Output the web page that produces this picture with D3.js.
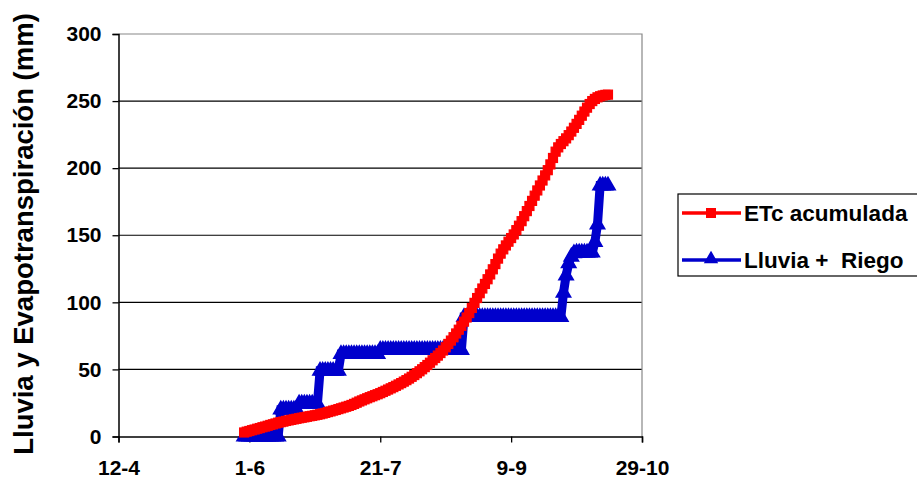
<!DOCTYPE html>
<html>
<head>
<meta charset="utf-8">
<script src="https://cdn.jsdelivr.net/npm/d3@7"></script>
<style>
  html, body { margin: 0; padding: 0; background: #fff; }
  svg { display: block; }
  text { font-family: "Liberation Sans", Arial, sans-serif; font-weight: bold; fill: #000; }
</style>
</head>
<body>
<svg id="chart" width="917" height="478"></svg>
<script>
// Daily series, one value per day starting on 30 May
const firstDay = "2005-05-30";

// Accumulated crop evapotranspiration (mm)
const etcAcumulada = [
  3.0, 3.6, 4.1, 4.7, 5.2, 5.8, 6.3, 6.9, 7.4, 8.0, 8.6, 9.1, 9.7,
  10.3, 10.7, 11.1, 11.6, 12.0, 12.4, 12.8, 13.2, 13.6, 14.0, 14.3, 14.7, 15.1, 15.4, 15.8, 16.2, 16.6,
  17.1, 17.6, 18.2, 18.7, 19.3, 19.8, 20.4, 21.0, 21.6, 22.2, 22.8, 23.5, 24.3, 25.2, 26.1, 26.9, 27.7, 28.5, 29.3, 30.0, 30.8, 31.5, 32.3,
  33.2, 34.1, 35.0, 35.9, 36.8, 37.8, 38.8, 39.8, 40.9, 42.0, 43.2, 44.5, 45.8, 47.2, 48.6, 50.1, 51.7, 53.3, 55.0, 56.8,
  58.5, 60.3, 62.2, 64.1, 66.5, 69.0, 71.5, 74.0, 76.8, 79.6, 82.5, 85.6, 88.7, 92.0, 95.8, 99.6,
  103.2, 106.8, 110.3, 113.7, 117.2, 120.8, 124.6, 128.5, 132.6, 136.3, 139.5, 142.4, 145.2, 147.9, 150.6,
  153.8, 157.1, 160.5, 164.2, 168.0, 171.8, 175.6, 179.5, 183.4, 187.1, 190.8, 194.6, 198.5, 202.8, 207.6, 212.3,
  215.5, 218.0, 220.1, 222.2, 224.6, 227.3, 230.1, 233.0, 236.0, 239.1, 242.2, 245.1, 247.8, 250.0,
  251.6, 252.8, 253.6, 254.2, 254.6, 254.8
];

// Accumulated rainfall + irrigation (mm)
const lluviaRiego = [
  0, 0, 0, 0, 0, 0, 0, 0, 0, 0, 0, 0, 0, 0,
  20, 20, 20, 20, 20, 20, 20,
  24.5, 24.5, 24.5, 24.5, 24.5, 24.5, 24.5, 24.5,
  49, 49, 49, 49, 49, 49, 49, 49,
  61.5, 61.5, 61.5, 61.5, 61.5, 61.5, 61.5, 61.5, 61.5, 61.5, 61.5, 61.5, 61.5, 61.5, 61.5,
  64.5, 64.5, 64.5, 64.5, 64.5, 64.5, 64.5, 64.5, 64.5, 64.5, 64.5, 64.5, 64.5, 64.5, 64.5, 64.5,
  64.5, 64.5, 64.5, 64.5, 64.5, 64.5, 64.5, 64.5, 64.5, 64.5, 64.5, 64.5, 64.5, 64.5, 64.5, 64.5,
  89, 89, 89, 89, 89, 89, 89, 89, 89, 89, 89, 89, 89, 89, 89, 89, 89, 89, 89,
  89, 89, 89, 89, 89, 89, 89, 89, 89, 89, 89, 89, 89, 89, 89, 89, 89, 89, 89,
  107, 120, 129, 134, 136.5,
  137, 137, 137, 137, 137, 137, 137,
  145, 158, 187,
  187, 187, 187
];

const seriesNames = ["ETc acumulada", "Lluvia +  Riego"];
const xTickDates = ["2005-04-12", "2005-06-01", "2005-07-21", "2005-09-09", "2005-10-29"];
const yTicks = [0, 50, 100, 150, 200, 250, 300];

const svg = d3.select("#chart");
const parse = d3.utcParse("%Y-%m-%d");
const start = parse(firstDay);
const tickDates = xTickDates.map(parse);

const plotLeft = 118.5, plotRight = 642, plotTop = 34, plotBottom = 436.5;

const x = d3.scaleUtc()
  .domain([tickDates[0], tickDates[tickDates.length - 1]])
  .range([plotLeft, plotRight]);
const y = d3.scaleLinear().domain([0, 300]).range([plotBottom, plotTop]);

const toPoints = arr => arr.map((v, i) => ({ date: d3.utcDay.offset(start, i), value: v }));
const etc = toPoints(etcAcumulada);
const lluvia = toPoints(lluviaRiego);

// Horizontal gridlines
svg.append("g")
  .selectAll("line")
  .data(yTicks.filter(t => t > 0 && t < 300))
  .join("line")
  .attr("x1", plotLeft).attr("x2", plotRight)
  .attr("y1", d => y(d)).attr("y2", d => y(d))
  .attr("stroke", "#000").attr("stroke-width", 1.2);

// Plot frame (top and right in grey)
svg.append("path")
  .attr("d", `M${plotLeft},${y(300)}H${plotRight}V${plotBottom}`)
  .attr("fill", "none").attr("stroke", "#888").attr("stroke-width", 1.2);

// Axes
const fmt = d3.utcFormat("%-d-%-m");
const xAxis = svg.append("g")
  .attr("transform", `translate(0,${plotBottom})`)
  .call(d3.axisBottom(x).tickValues(tickDates).tickFormat(fmt).tickSize(6).tickPadding(18));
const yAxis = svg.append("g")
  .attr("transform", `translate(${plotLeft},0)`)
  .call(d3.axisLeft(y).tickValues(yTicks).tickSize(6).tickPadding(11));

[xAxis, yAxis].forEach(g => {
  g.select(".domain").attr("stroke", "#000").attr("stroke-width", 1.5);
  g.selectAll(".tick line").attr("stroke", "#000").attr("stroke-width", 1.3);
  g.selectAll("text")
    .attr("font-family", '"Liberation Sans", Arial, sans-serif')
    .attr("font-weight", "bold")
    .attr("font-size", 21)
    .attr("fill", "#000");
});

// Y axis title
svg.append("text")
  .attr("transform", `translate(33,234) rotate(-90)`)
  .attr("text-anchor", "middle")
  .attr("font-size", 27.5)
  .text("Lluvia y Evapotranspiración (mm)");

// Series
const line = d3.line().x(d => x(d.date)).y(d => y(d.value));
const blue = "#0000cc", red = "#ff0000";
const tri = d3.symbol().type(d3.symbolTriangle).size(80);

const gBlue = svg.append("g");
gBlue.append("path").datum(lluvia)
  .attr("d", line).attr("fill", "none").attr("stroke", blue).attr("stroke-width", 9);
gBlue.selectAll("path.m").data(lluvia).join("path").attr("class", "m")
  .attr("d", tri)
  .attr("transform", d => `translate(${x(d.date)},${y(d.value)})`)
  .attr("fill", blue).attr("stroke", blue).attr("stroke-width", 2);

const gRed = svg.append("g");
gRed.append("path").datum(etc)
  .attr("d", line).attr("fill", "none").attr("stroke", red).attr("stroke-width", 6);
gRed.selectAll("rect").data(etc).join("rect")
  .attr("x", d => x(d.date) - 4.5).attr("y", d => y(d.value) - 4.5)
  .attr("width", 9).attr("height", 9)
  .attr("fill", red).attr("stroke", red).attr("stroke-width", 1.2);

// Legend
const lg = svg.append("g");
lg.append("rect")
  .attr("x", 678).attr("y", 194).attr("width", 260).attr("height", 82)
  .attr("fill", "#fff").attr("stroke", "#000").attr("stroke-width", 1.2);

const legendRows = [
  { name: seriesNames[0], color: red, cy: 213, marker: "square" },
  { name: seriesNames[1], color: blue, cy: 260, marker: "triangle" }
];
legendRows.forEach(r => {
  lg.append("line")
    .attr("x1", 682).attr("x2", 741).attr("y1", r.cy).attr("y2", r.cy)
    .attr("stroke", r.color).attr("stroke-width", 3.5);
  if (r.marker === "square") {
    lg.append("rect").attr("x", 706).attr("y", r.cy - 5).attr("width", 10).attr("height", 10)
      .attr("fill", r.color);
  } else {
    lg.append("path").attr("d", d3.symbol().type(d3.symbolTriangle).size(60))
      .attr("transform", `translate(711,${r.cy - 1})`)
      .attr("fill", r.color).attr("stroke", r.color).attr("stroke-width", 1.5);
  }
  lg.append("text")
    .attr("x", 744).attr("y", r.cy)
    .attr("dy", "0.35em")
    .attr("font-size", 22.5)
    .attr("xml:space", "preserve")
    .style("white-space", "pre")
    .text(r.name);
});
</script>
</body>
</html>
